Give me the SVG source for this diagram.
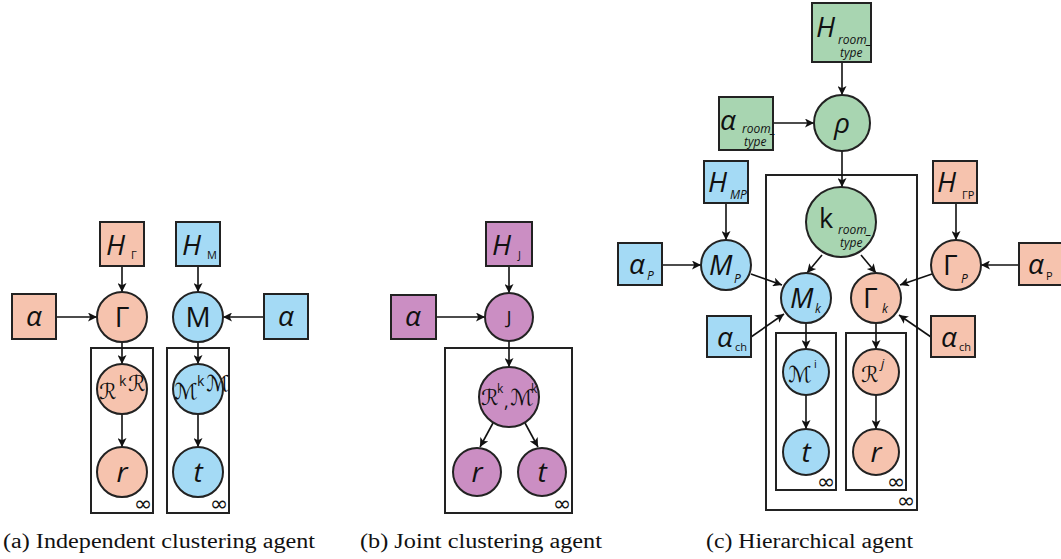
<svg xmlns="http://www.w3.org/2000/svg" width="1061" height="559" viewBox="0 0 1061 559">
<defs>
<marker id="ah" viewBox="0 0 10 10" refX="10" refY="5" markerWidth="11" markerHeight="9" markerUnits="userSpaceOnUse" orient="auto"><path d="M0,0 L10,5 L0,10 L2.5,5 Z" fill="#111"/></marker>
</defs>
<style>
.s{fill:#f6c3ae;stroke:#222;stroke-width:2}
.b{fill:#a4daf5;stroke:#222;stroke-width:2}
.p{fill:#cb8ec3;stroke:#222;stroke-width:2}
.g{fill:#a8d5b1;stroke:#222;stroke-width:2}
.pl{fill:none;stroke:#222;stroke-width:2}
.e{stroke:#111;stroke-width:1.6;fill:none;marker-end:url(#ah)}
.t{font-family:"Open Sans","Noto Sans","Liberation Sans",sans-serif;fill:#111}
.big{font-size:28px;font-style:italic}
.up{font-size:28px}
.sub{font-size:11px}
.subi{font-size:12px;font-style:italic}
.scr{font-family:"DejaVu Sans","Liberation Serif",serif;font-size:22px;fill:#111}
.inf{font-family:"DejaVu Sans",sans-serif;font-size:22px;fill:#111}
.cap{font-family:"Liberation Serif","DejaVu Serif",serif;font-size:20px;fill:#111}
</style>
<rect width="1061" height="559" fill="#fff"/>

<!-- plates -->
<g id="plates">
<rect class="pl" x="91" y="348" width="62" height="165"/>
<rect class="pl" x="167" y="348" width="62" height="165"/>
<rect class="pl" x="445" y="348" width="127" height="165"/>
<rect class="pl" x="766" y="175" width="151" height="335"/>
<rect class="pl" x="776" y="333" width="60" height="157"/>
<rect class="pl" x="846" y="333" width="60" height="157"/>
<text class="inf" x="134" y="511">∞</text>
<text class="inf" x="210" y="511">∞</text>
<text class="inf" x="553" y="511">∞</text>
<text class="inf" x="817" y="489">∞</text>
<text class="inf" x="887" y="489">∞</text>
<text class="inf" x="897" y="508">∞</text>
</g>

<g id="connectors">
<line class="e" x1="122" y1="266" x2="122" y2="292"/>
<line class="e" x1="198" y1="266" x2="198" y2="292"/>
<line class="e" x1="56" y1="317" x2="97" y2="317"/>
<line class="e" x1="264" y1="317" x2="223" y2="317"/>
<line class="e" x1="122" y1="342" x2="122" y2="364"/>
<line class="e" x1="198" y1="342" x2="198" y2="364"/>
<line class="e" x1="122" y1="414" x2="122" y2="447"/>
<line class="e" x1="198" y1="414" x2="198" y2="447"/>

<line class="e" x1="509" y1="266" x2="509" y2="293"/>
<line class="e" x1="436" y1="317" x2="485" y2="317"/>
<line class="e" x1="509" y1="341" x2="509" y2="367"/>
<line class="e" x1="493" y1="423" x2="480" y2="447"/>
<line class="e" x1="525" y1="423" x2="538" y2="447"/>

<line class="e" x1="842" y1="62" x2="842" y2="95"/>
<line class="e" x1="773" y1="123" x2="814" y2="123"/>
<line class="e" x1="842" y1="151" x2="842" y2="187"/>
<line class="e" x1="822" y1="255" x2="807" y2="273"/>
<line class="e" x1="861" y1="255" x2="876" y2="273"/>
<line class="e" x1="726" y1="203" x2="726" y2="240"/>
<line class="e" x1="956" y1="203" x2="956" y2="240"/>
<line class="e" x1="662" y1="265" x2="701" y2="265"/>
<line class="e" x1="1019" y1="265" x2="981" y2="265"/>
<line class="e" x1="751" y1="274" x2="782" y2="285"/>
<line class="e" x1="932" y1="274" x2="900" y2="285"/>
<line class="e" x1="751" y1="337" x2="784" y2="314"/>
<line class="e" x1="931" y1="337" x2="899" y2="315"/>
<line class="e" x1="806" y1="323" x2="806" y2="349"/>
<line class="e" x1="876" y1="323" x2="876" y2="349"/>
<line class="e" x1="806" y1="395" x2="806" y2="429"/>
<line class="e" x1="876" y1="395" x2="876" y2="429"/>
</g>

<!-- Panel a -->
<g id="a_HG"><rect class="s" x="100" y="222" width="44" height="44"/><text class="t big" x="106" y="255">H</text><text class="t sub" x="131" y="259">Γ</text></g>
<g id="a_HM"><rect class="b" x="176" y="222" width="44" height="44"/><text class="t big" x="182" y="255">H</text><text class="t sub" x="207" y="259">M</text></g>
<g id="a_alphaL"><rect class="s" x="12" y="294" width="44" height="45"/><text class="t big" x="34" y="326" text-anchor="middle">α</text></g>
<g id="a_alphaR"><rect class="b" x="264" y="294" width="44" height="45"/><text class="t big" x="286" y="326" text-anchor="middle">α</text></g>
<g id="a_Gamma"><circle class="s" cx="122" cy="317" r="25"/><text class="t up" x="122" y="327" text-anchor="middle">Γ</text></g>
<g id="a_M"><circle class="b" cx="198" cy="317" r="25"/><text class="t up" x="198" y="327" text-anchor="middle">M</text></g>
<g id="a_R"><circle class="s" cx="122" cy="389" r="25"/><text class="scr" x="99" y="399" font-size="26">ℛ</text><text class="t" x="119" y="386" font-size="14">k</text><text class="scr" x="128" y="391" font-size="10">ℛ</text></g>
<g id="a_Mk"><circle class="b" cx="198" cy="389" r="25"/><text class="scr" x="174" y="399" font-size="24">ℳ</text><text class="t" x="197" y="386" font-size="14">k</text><text class="scr" x="206" y="391" font-size="10">ℳ</text></g>
<g id="a_r"><circle class="s" cx="122" cy="472" r="25"/><text class="t big" x="122" y="482" text-anchor="middle">r</text></g>
<g id="a_t"><circle class="b" cx="198" cy="472" r="25"/><text class="t big" x="198" y="482" text-anchor="middle">t</text></g>
<text class="cap" style="font-family:'Liberation Serif','DejaVu Serif',serif" x="3" y="548" textLength="312" lengthAdjust="spacingAndGlyphs">(a) Independent clustering agent</text>

<!-- Panel b -->
<g id="b_HJ"><rect class="p" x="486" y="222" width="46" height="44"/><text class="t big" x="492" y="255">H</text><text class="t sub" x="518" y="259">J</text></g>
<g id="b_alpha"><rect class="p" x="391" y="295" width="45" height="44"/><text class="t big" x="413" y="326" text-anchor="middle">α</text></g>
<g id="b_J"><circle class="p" cx="509" cy="317" r="24"/><text class="t" x="509" y="324" font-size="19" text-anchor="middle">J</text></g>
<g id="b_RM"><circle class="p" cx="509" cy="397" r="30"/><text class="scr" x="481" y="405" font-size="18">ℛ</text><text class="t" x="497" y="393" font-size="12">k</text><text class="t" x="504" y="408" font-size="18">,</text><text class="scr" x="510" y="405" font-size="18">ℳ</text><text class="t" x="531" y="393" font-size="12">k</text></g>
<g id="b_r"><circle class="p" cx="477" cy="472" r="24"/><text class="t big" x="477" y="482" text-anchor="middle">r</text></g>
<g id="b_t"><circle class="p" cx="542" cy="472" r="24"/><text class="t big" x="542" y="482" text-anchor="middle">t</text></g>
<text class="cap" style="font-family:'Liberation Serif','DejaVu Serif',serif" x="360" y="548" textLength="242" lengthAdjust="spacingAndGlyphs">(b) Joint clustering agent</text>

<!-- Panel c -->
<g id="c_Hroom"><rect class="g" x="812" y="3" width="59" height="59"/><text class="t big" x="816" y="37" font-size="34">H</text><text class="t subi" x="838" y="44" font-size="10.5">room_</text><text class="t subi" x="840" y="57" font-size="10.5">type</text></g>
<g id="c_aroom"><rect class="g" x="719" y="97" width="54" height="53"/><text class="t big" x="720" y="130" font-size="31">α</text><text class="t subi" x="742" y="133" font-size="10">room_</text><text class="t subi" x="744" y="146" font-size="10">type</text></g>
<g id="c_rho"><circle class="g" cx="842" cy="123" r="28"/><text class="t big" x="842" y="133" text-anchor="middle" font-size="30">ρ</text></g>
<g id="c_kroom"><circle class="g" cx="841" cy="222" r="35"/><text class="t" x="819" y="228" font-size="27">k</text><text class="t subi" x="838" y="234" font-size="10.5">room_</text><text class="t subi" x="840" y="247" font-size="10.5">type</text></g>
<g id="c_HMP"><rect class="b" x="704" y="161" width="44" height="42"/><text class="t big" x="708" y="192">H</text><text class="t subi" x="730" y="199" font-size="10">MP</text></g>
<g id="c_HGP"><rect class="s" x="933" y="161" width="44" height="42"/><text class="t big" x="937" y="192">H</text><text class="t sub" x="962" y="199" font-size="10">ΓP</text></g>
<g id="c_aPL"><rect class="b" x="618" y="243" width="44" height="42"/><text class="t big" x="629" y="274">α</text><text class="t subi" x="647" y="280" font-size="9">P</text></g>
<g id="c_aPR"><rect class="s" x="1019" y="243" width="44" height="42"/><text class="t big" x="1028" y="274">α</text><text class="t sub" x="1046" y="280" font-size="9">P</text></g>
<g id="c_MP"><circle class="b" cx="726" cy="265" r="25"/><text class="t big" x="709" y="275">M</text><text class="t subi" x="734" y="283" font-size="10">P</text></g>
<g id="c_GP"><circle class="s" cx="956" cy="265" r="25"/><text class="t up" x="943" y="275">Γ</text><text class="t subi" x="961" y="283" font-size="10">P</text></g>
<g id="c_Mk"><circle class="b" cx="806" cy="298" r="25"/><text class="t big" x="790" y="308">M</text><text class="t subi" x="815" y="313" font-size="17">k</text></g>
<g id="c_Gk"><circle class="s" cx="876" cy="298" r="25"/><text class="t up" x="863" y="308">Γ</text><text class="t subi" x="882" y="313" font-size="17">k</text></g>
<g id="c_achL"><rect class="b" x="707" y="316" width="44" height="41"/><text class="t big" x="717" y="347">α</text><text class="t sub" x="735" y="351" font-size="9">ch</text></g>
<g id="c_achR"><rect class="s" x="931" y="316" width="44" height="41"/><text class="t big" x="941" y="347">α</text><text class="t sub" x="959" y="351" font-size="9">ch</text></g>
<g id="c_Mi"><circle class="b" cx="806" cy="372" r="23"/><text class="scr" x="788" y="382" font-size="23">ℳ</text><text class="t" x="814" y="368" font-size="11">i</text></g>
<g id="c_Rj"><circle class="s" cx="876" cy="372" r="23"/><text class="scr" x="861" y="382" font-size="24">ℛ</text><text class="t" x="881" y="368" font-size="13" font-style="italic">j</text></g>
<g id="c_t"><circle class="b" cx="806" cy="452" r="23"/><text class="t big" x="806" y="462" text-anchor="middle">t</text></g>
<g id="c_r"><circle class="s" cx="876" cy="452" r="23"/><text class="t big" x="876" y="462" text-anchor="middle">r</text></g>
<text class="cap" style="font-family:'Liberation Serif','DejaVu Serif',serif" x="706" y="548" textLength="207" lengthAdjust="spacingAndGlyphs">(c) Hierarchical agent</text>
</svg>
